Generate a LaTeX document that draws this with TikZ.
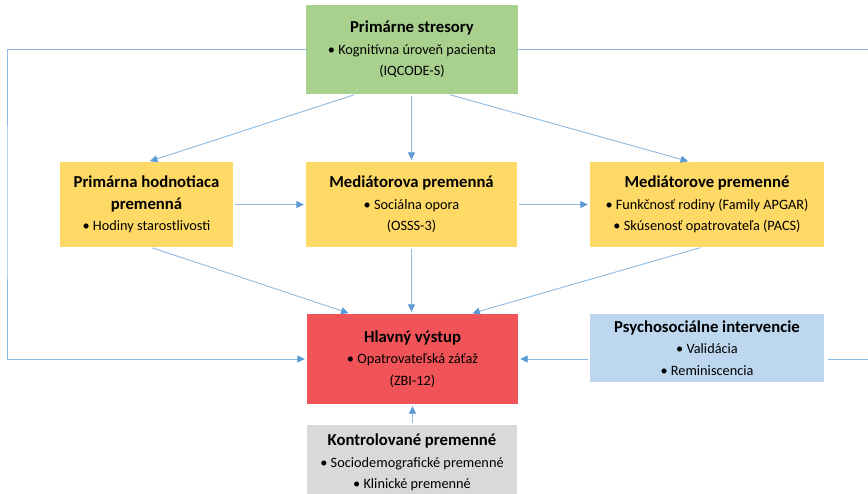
\documentclass[tikz,border=0pt]{standalone}
\usepackage{fontspec}
\setmainfont{Carlito}
\usetikzlibrary{arrows.meta}

\definecolor{linkblue}{RGB}{91,155,213}
\definecolor{linklight}{RGB}{140,186,228}
\definecolor{stressgreen}{RGB}{169,209,142}
\definecolor{medyellow}{RGB}{255,217,102}
\definecolor{outred}{RGB}{240,84,88}
\definecolor{intblue}{RGB}{189,215,238}
\definecolor{ctrlgrey}{RGB}{217,217,217}

\newcommand{\boxtitle}[1]{{\fontsize{16.7}{21.5}\selectfont\bfseries #1}}
\newcommand{\itm}{\textbullet\ }

\tikzset{
  box/.style={rectangle, inner sep=0pt, align=center, text=black,
    font=\fontsize{14.3}{21.5}\selectfont,
    execute at begin node=\rule{0pt}{18.5pt}},
  link/.style={draw=linklight, line width=0.9pt, shorten <=2pt, shorten >=2pt,
    -{Triangle[length=7.5pt,width=7pt,color=linkblue]}},
  plainlink/.style={draw=linklight, line width=1pt},
}

\begin{document}
\begin{tikzpicture}[x=1pt,y=-1pt]
  \useasboundingbox (0,0) rectangle (868,493);
  \fill[white] (0,0) rectangle (868,493);
  \clip (0,0) rectangle (868,493);

  % boxes
  \node[box, fill=stressgreen, minimum width=212, minimum height=89] (stres) at (412,49.5)
    {\boxtitle{Primárne stresory}\\ \itm Kognitívna úroveň pacienta\\ (IQCODE-S)};
  \node[box, fill=medyellow, minimum width=173, minimum height=85] (appr) at (146.5,204.5)
    {\boxtitle{Primárna hodnotiaca}\\ \boxtitle{premenná}\\ \itm Hodiny starostlivosti};
  \node[box, fill=medyellow, minimum width=211, minimum height=85] (med) at (411.5,204.5)
    {\boxtitle{Mediátorova premenná}\\ \itm Sociálna opora\\ (OSSS-3)};
  \node[box, fill=medyellow, minimum width=234, minimum height=85] (meds) at (707,204.5)
    {\boxtitle{Mediátorove premenné}\\ \itm Funkčnosť rodiny (Family APGAR)\\ \itm Skúsenosť opatrovateľa (PACS)};
  \node[box, fill=outred, minimum width=211, minimum height=90] (out) at (412.5,359)
    {\boxtitle{Hlavný výstup}\\ \itm Opatrovateľská záťaž\\ (ZBI-12)};
  \node[box, fill=intblue, minimum width=234, minimum height=68] (psy) at (707,348)
    {\boxtitle{Psychosociálne intervencie}\\ \itm Validácia\\ \itm Reminiscencia};
  \node[box, fill=ctrlgrey, minimum width=210, minimum height=75] (ctrl) at (412,462.5)
    {\boxtitle{Kontrolované premenné}\\ \itm Sociodemografické premenné\\ \itm Klinické premenné};

  % turning points of the outer feedback lines
  \coordinate (loopL) at (7,200);
  \coordinate (loopR) at (880,200);

  % arrows
  \draw[link] ([xshift=-56]stres.south) -- ([xshift=1.5]appr.north);
  \draw[link] (stres.south -| med.north) -- (med.north);
  \draw[link] ([xshift=36]stres.south) -- ([xshift=-17]meds.north);
  \draw[link] (appr.east) -- (med.west);
  \draw[link] (med.east) -- (meds.west);
  \draw[link] ([xshift=4]appr.south) -- ([xshift=-62]out.north);
  \draw[link] (med.south) -- (med.south |- out.north);
  \draw[link] ([xshift=-5]meds.south) -- ([xshift=58]out.north);
  \draw[link] (ctrl.north -| out.south) -- (out.south);
  \draw[link, shorten <=0pt] (stres.west) -| (loopL) |- (out.west);
  \draw[link] (psy.west |- out.east) -- (out.east);
  \draw[plainlink] (stres.east) -| (loopR) |- ([xshift=4]psy.east |- out.east);
\end{tikzpicture}
\end{document}
